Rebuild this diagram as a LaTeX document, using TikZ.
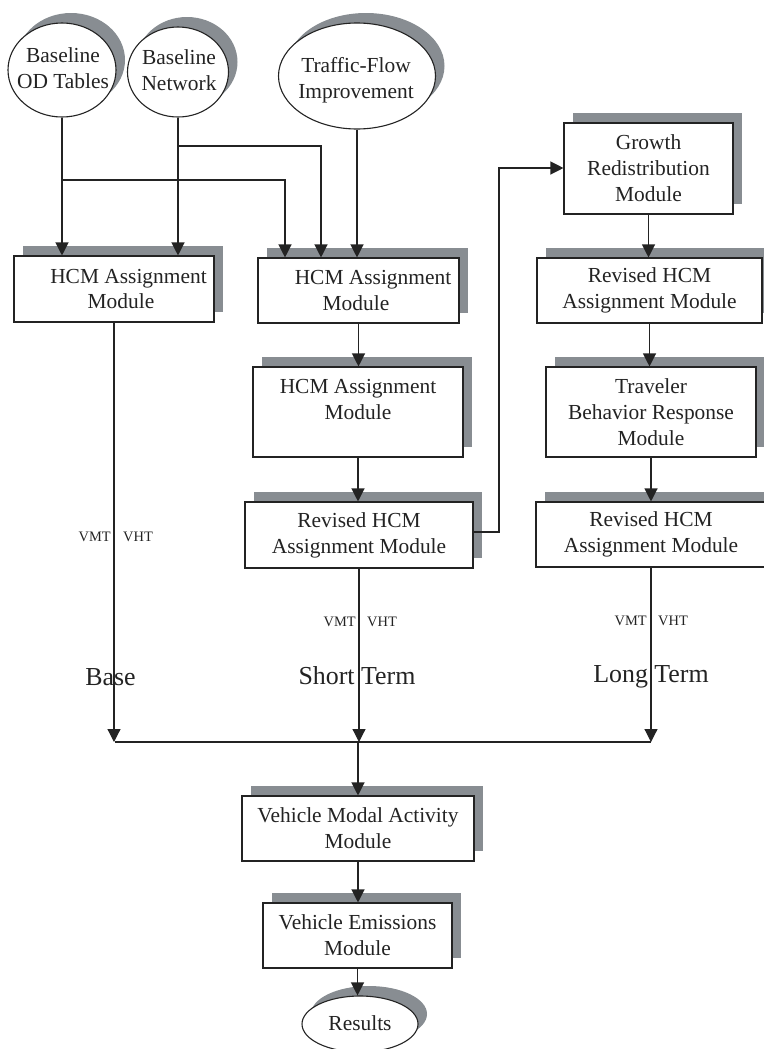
\documentclass[tikz,border=0pt]{standalone}
\usepackage{fontspec}
\setmainfont{Liberation Serif}
\usetikzlibrary{shapes.geometric,shadows,arrows.meta}
\definecolor{shgray}{RGB}{136,141,146}
\definecolor{ink}{RGB}{35,35,35}
\begin{document}
\begin{tikzpicture}[x=1bp,y=-1bp,
  shad/.style={drop shadow={shadow xshift=9bp,shadow yshift=10bp,fill=shgray,opacity=1}},
  box/.style={rectangle,draw=ink,line width=1.1bp,fill=white,inner sep=0pt,align=center,
    font=\fontsize{21.5}{26}\selectfont,text=ink,shad},
  oval/.style={ellipse,draw=ink,line width=1.1bp,fill=white,inner sep=0pt,shad},
  lbl/.style={font=\fontsize{21.5}{26}\selectfont,text=ink,align=center,inner sep=0pt},
  small/.style={font=\fontsize{14.5}{16}\selectfont,text=ink,inner sep=0pt},
  big/.style={font=\fontsize{26}{30}\selectfont,text=ink,inner sep=0pt},
  conn/.style={draw=ink,line width=1.2bp},
  arr/.style={conn,-{Triangle[width=13bp,length=13bp]}}]
\useasboundingbox (0,0) rectangle (764,1049);

% ovals
\node[oval,minimum width=108bp,minimum height=94bp] (od) at (62,70) {};
\node[lbl] (odt) at (63,68.5) {Baseline\\OD Tables};
\node[oval,minimum width=101bp,minimum height=90bp] (net) at (178,72) {};
\node[lbl] (nett) at (179,70.5) {Baseline\\Network};
\node[oval,minimum width=157bp,minimum height=106bp] (tfi) at (357,76) {};
\node[lbl] (tfit) at (356,80) {Traffic-Flow\\Improvement};
\node[oval,minimum width=116bp,minimum height=56bp] (res) at (360,1024) {};
\node[lbl] (rest) at (360,1023) {Results};

% boxes
\node[box,minimum width=200bp,minimum height=66bp] (hcmA) at (114,289)
  {\hspace*{29bp}HCM Assignment\\\hspace*{14bp}Module};
\node[box,minimum width=201bp,minimum height=65bp] (hcmB) at (358.5,290.5)
  {\hspace*{29bp}HCM Assignment\\Module\hspace*{5bp}};
\node[box,minimum width=210bp,minimum height=90bp] (hcmC) at (358,412)
  {HCM Assignment\\Module\\\mbox{}};
\node[box,minimum width=228bp,minimum height=66bp] (revS) at (359,535)
  {Revised HCM\\Assignment Module};
\node[box,minimum width=169bp,minimum height=91bp] (grow) at (648.5,168.5)
  {Growth\\Redistribution\\Module};
\node[box,minimum width=225bp,minimum height=65bp] (revR) at (649.5,290.5)
  {Revised HCM\\Assignment Module};
\node[box,minimum width=210bp,minimum height=90bp] (trav) at (651,412)
  {Traveler\\Behavior Response\\Module};
\node[box,minimum width=230bp,minimum height=65bp] (revL) at (651,534.5)
  {Revised HCM\\Assignment Module};
\node[box,minimum width=232bp,minimum height=65bp] (vma) at (358,828.5)
  {Vehicle Modal Activity\\Module};
\node[box,minimum width=189bp,minimum height=65bp] (ve) at (357.5,935.5)
  {Vehicle Emissions\\Module};

% junction coordinates
\coordinate (jOD) at (62,180);
\coordinate (jODr) at (285,180);
\coordinate (jNet) at (178,146);
\coordinate (jNetr) at (321,146);
\coordinate (busL) at (115,742);
\coordinate (busM) at (358,742);
\coordinate (busR) at (651,742);
\coordinate (loopA) at (499,532);
\coordinate (loopB) at (499,168);

% connectors
\draw[arr] (od.south) -- (od.south |- hcmA.north);
\draw[arr] (net.south) -- (net.south |- hcmA.north);
\draw[arr] (jOD) -- (jODr) -- (jODr |- hcmB.north);
\draw[arr] (jNet) -- (jNetr) -- (jNetr |- hcmB.north);
\draw[arr] (tfi.south) -- (tfi.south |- hcmB.north);
\draw[arr] (hcmA.south) -- (hcmA.south |- busL);
\draw[conn] (busL) -- (busR);
\draw[arr] (hcmB.south) -- (hcmB.south |- hcmC.north);
\draw[arr] (hcmC.south) -- (hcmC.south |- revS.north);
\draw[arr] (revS.east |- loopA) -- (loopA) -- (loopB) -- (loopB -| grow.west);
\draw[arr] (revS.south) -- (revS.south |- busM);
\draw[arr] (busM) -- (busM |- vma.north);
\draw[arr] (vma.south) -- (vma.south |- ve.north);
\draw[arr] (ve.south) -- (ve.south |- res.north);
\draw[arr] (grow.south) -- (grow.south |- revR.north);
\draw[arr] (revR.south) -- (revR.south |- trav.north);
\draw[arr] (trav.south) -- (trav.south |- revL.north);
\draw[arr] (revL.south) -- (revL.south |- busR);

% labels
\node[small,anchor=base east] (vmtA) at (111,541) {VMT};
\node[small,anchor=base west] (vhtA) at (123,541) {VHT};
\node[small,anchor=base east] (vmtB) at (356,626) {VMT};
\node[small,anchor=base west] (vhtB) at (367,626) {VHT};
\node[small,anchor=base east] (vmtC) at (647,625) {VMT};
\node[small,anchor=base west] (vhtC) at (658,625) {VHT};
\node[big,anchor=base] (base) at (110.5,685) {Base};
\node[big,anchor=base] (short) at (357,684) {Short Term};
\node[big,anchor=base] (long) at (651,682) {Long Term};
\end{tikzpicture}
\end{document}
